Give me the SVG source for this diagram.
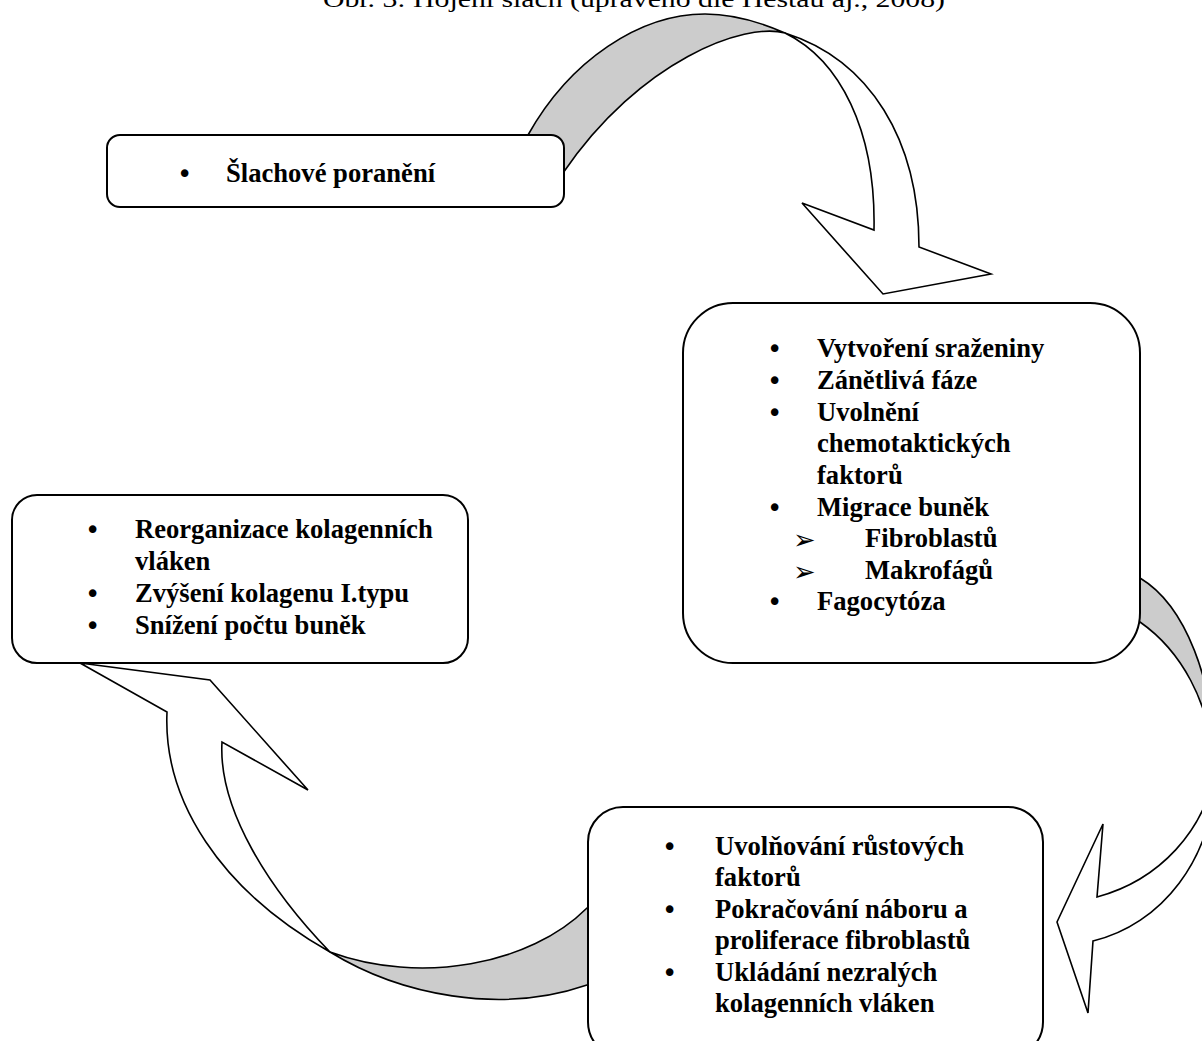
<svg xmlns="http://www.w3.org/2000/svg" width="1202" height="1041" viewBox="0 0 1202 1041">
<style>
.box{fill:#fff;stroke:#000;stroke-width:2}
.gray{fill:#cccccc;stroke:#000;stroke-width:1.6;stroke-linejoin:round}
.white{fill:#fff;stroke:#000;stroke-width:1.6;stroke-linejoin:miter}
.t{font-family:"Liberation Serif","Times New Roman",serif;font-weight:bold;font-size:26.6px;fill:#000}
.b{font-family:"DejaVu Sans",sans-serif;font-size:26px;fill:#000}
.a{font-family:"DejaVu Sans",sans-serif;font-size:27px;fill:#000}
.cap{font-family:"Liberation Serif","Times New Roman",serif;font-size:24px;fill:#000}
</style>
<rect width="1202" height="1041" fill="#fff"/>
<text class="cap" x="323" y="7" textLength="622" lengthAdjust="spacingAndGlyphs">Obr. 3: Hojení šlach (upraveno dle Hestau aj., 2008)</text>
<g id="connectors">
  <g id="arrow1">
    <path class="gray" d="M528,135 C570,60 640,14 705,14 C735,14 760,22 785,33 C745,22 640,60 563,173 L540,170 Z"/>
    <path class="white" d="M785,33 C870,60 919,140 919,247 L991,274 L883,294 L802,203 L874,230 C876,130 840,60 785,33 Z"/>
  </g>
  <g id="arrow2">
    <path class="gray" d="M1130,578 L1140,578 C1185,605 1215,680 1215,770 C1210,700 1180,650 1140,622 L1130,622 Z"/>
    <path class="white" d="M1215,770 C1205,830 1160,880 1097,897 L1103,824 L1057,922 L1088,1013 L1093,941 C1160,925 1215,860 1215,770 Z"/>
  </g>
  <g id="arrow3">
    <path class="gray" d="M600,908 L587,908 C530,965 420,985 330,952 C400,995 500,1015 587,985 L600,985 Z"/>
    <path class="white" d="M330,952 C220,890 163,800 167,712 L80,663 L210,680 L308,790 L222,742 C218,810 270,890 330,952 Z"/>
  </g>
</g>
<g id="node1">
  <rect class="box" x="107" y="135" width="457" height="72" rx="13"/>
  <text class="b" x="177" y="183">•</text>
  <text class="t" x="226" y="182">Šlachové poranění</text>
</g>
<g id="node2">
  <rect class="box" x="683" y="303" width="457" height="360" rx="50"/>
  <text class="b" x="767" y="358">•</text><text class="t" x="817" y="357">Vytvoření sraženiny</text>
  <text class="b" x="767" y="390">•</text><text class="t" x="817" y="389">Zánětlivá fáze</text>
  <text class="b" x="767" y="422">•</text><text class="t" x="817" y="421">Uvolnění</text>
  <text class="t" x="817" y="452">chemotaktických</text>
  <text class="t" x="817" y="484">faktorů</text>
  <text class="b" x="767" y="517">•</text><text class="t" x="817" y="516">Migrace buněk</text>
  <text class="a" x="793" y="549">➢</text><text class="t" x="865" y="547">Fibroblastů</text>
  <text class="a" x="793" y="581">➢</text><text class="t" x="865" y="579">Makrofágů</text>
  <text class="b" x="767" y="611">•</text><text class="t" x="817" y="610">Fagocytóza</text>
</g>
<g id="node3">
  <rect class="box" x="12" y="495" width="456" height="168" rx="25"/>
  <text class="b" x="85" y="539">•</text><text class="t" x="135" y="538">Reorganizace kolagenních</text>
  <text class="t" x="135" y="570">vláken</text>
  <text class="b" x="85" y="603">•</text><text class="t" x="135" y="602">Zvýšení kolagenu I.typu</text>
  <text class="b" x="85" y="635">•</text><text class="t" x="135" y="634">Snížení počtu buněk</text>
</g>
<g id="node4">
  <rect class="box" x="588" y="807" width="455" height="250" rx="35"/>
  <text class="b" x="662" y="856">•</text><text class="t" x="715" y="855">Uvolňování růstových</text>
  <text class="t" x="715" y="886">faktorů</text>
  <text class="b" x="662" y="919">•</text><text class="t" x="715" y="918">Pokračování náboru a</text>
  <text class="t" x="715" y="949">proliferace fibroblastů</text>
  <text class="b" x="662" y="982">•</text><text class="t" x="715" y="981">Ukládání nezralých</text>
  <text class="t" x="715" y="1012">kolagenních vláken</text>
</g>
</svg>
